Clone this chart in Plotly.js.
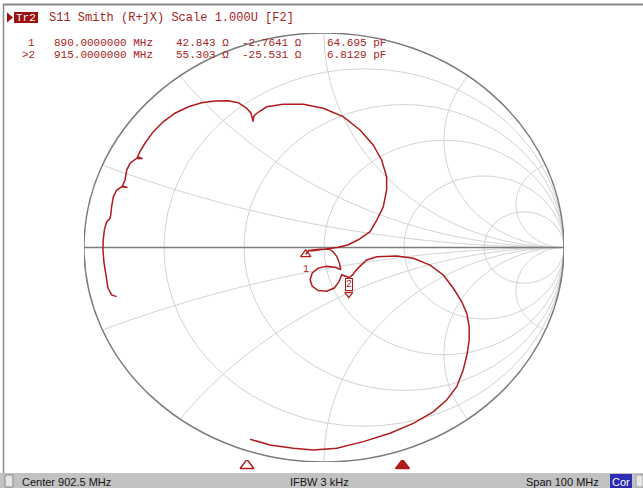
<!DOCTYPE html>
<html><head><meta charset="utf-8">
<script src="https://cdn.plot.ly/plotly-3.0.1.min.js"></script>
<style>html,body{margin:0;padding:0;background:#fff;overflow:hidden}#chart{width:643px;height:488px}</style>
</head><body><div id="chart"></div>
<script>
const W = 643, H = 488;

const s11Re = [-0.864,-0.885,-0.900,-0.910,-0.917,-0.921,-0.920,-0.915,-0.906,-0.892,-0.888,-0.885,-0.878,-0.864,-0.843,-0.819,-0.840,-0.829,-0.822,-0.808,-0.780,-0.756,-0.777,-0.767,-0.746,-0.711,-0.670,-0.621,-0.565,-0.510,-0.454,-0.399,-0.357,-0.322,-0.304,-0.297,-0.296,-0.292,-0.280,-0.260,-0.239,-0.170,-0.086,-0.003,0.080,0.150,0.205,0.240,0.261,0.261,0.247,0.220,0.192,0.143,0.101,0.060,0.018,-0.017,-0.045,-0.065,-0.076,-0.063,-0.017,0.021,0.039,0.053,0.064,0.070,0.046,0.011,-0.024,-0.049,-0.058,-0.049,-0.024,0.011,0.043,0.063,0.074,0.088,0.104,0.119,0.136,0.157,0.178,0.220,0.303,0.372,0.442,0.497,0.539,0.574,0.595,0.605,0.605,0.597,0.580,0.553,0.511,0.455,0.372,0.275,0.164,0.053,-0.045,-0.128,-0.225,-0.308];
const s11Im = [-0.229,-0.221,-0.189,-0.128,-0.068,-0.012,0.035,0.082,0.119,0.135,0.156,0.190,0.235,0.268,0.283,0.280,0.287,0.315,0.361,0.393,0.416,0.415,0.422,0.447,0.486,0.540,0.586,0.626,0.656,0.675,0.683,0.684,0.675,0.649,0.626,0.594,0.587,0.613,0.626,0.641,0.656,0.668,0.668,0.649,0.610,0.548,0.478,0.408,0.330,0.268,0.190,0.128,0.074,0.036,0.013,0.001,-0.006,-0.010,-0.015,-0.015,-0.032,-0.014,-0.008,-0.007,-0.021,-0.041,-0.072,-0.103,-0.092,-0.088,-0.096,-0.119,-0.150,-0.181,-0.201,-0.204,-0.189,-0.158,-0.127,-0.134,-0.140,-0.128,-0.103,-0.080,-0.058,-0.043,-0.040,-0.050,-0.082,-0.128,-0.190,-0.253,-0.307,-0.369,-0.431,-0.493,-0.571,-0.649,-0.711,-0.766,-0.820,-0.866,-0.905,-0.936,-0.944,-0.936,-0.921,-0.894];

// markers
const markerNames = ['1', '>2'];
const markerLabels = ['1', '2'];
const markerFreqMHz = [890, 915];
const markerR = [42.843, 55.303];
const markerX = [-2.7641, -25.531];
const markerC = ['64.695', '6.8129'];

const centerMHz = 902.5, spanMHz = 100, ifbwKHz = 3;
const Z0 = 50;
const gridR = [0.2, 0.5, 1, 2, 5];
const gridX = [0.2, 0.5, 1, 2, 5];

const RED = '#b01c1c', TXT = '#a82424', GRID = '#d2d2d2', AX = '#7c7c7c';

// convert marker impedance to Γ
const mRe = [], mIm = [];
for (let i = 0; i < markerR.length; i++) {
  const zr = markerR[i] / Z0, zi = markerX[i] / Z0;
  const nr = zr - 1, ni = zi, dr = zr + 1, di = zi;
  const d = dr * dr + di * di;
  mRe.push((nr * dr + ni * di) / d);
  mIm.push((ni * dr - nr * di) / d);
}

const px = v => v / W, py = v => 1 - v / H;
const shapes = [];
// resistance circles
gridR.forEach(r => shapes.push({type:'circle', xref:'x', yref:'y', x0:(r-1)/(r+1), x1:1, y0:-1/(1+r), y1:1/(1+r), line:{color:GRID, width:1}, layer:'below'}));
// reactance arcs
function arc(x, sgn) {
  const k = 1 / x, R = k;
  const ex = (x*x - 1) / (x*x + 1), ey = 2*x / (x*x + 1);
  const t0 = -Math.PI / 2;
  let tE = Math.atan2(ey - k, ex - 1);
  if (tE > t0) tE -= 2 * Math.PI;
  let d = '';
  const n = 90;
  for (let i = 0; i <= n; i++) {
    const t = t0 + (tE - t0) * i / n;
    d += (i ? 'L' : 'M') + (1 + R * Math.cos(t)).toFixed(5) + ',' + (sgn * (k + R * Math.sin(t))).toFixed(5);
  }
  return d;
}
gridX.forEach(x => {
  [1, -1].forEach(s => shapes.push({type:'path', xref:'x', yref:'y', path:arc(x, s), line:{color:GRID, width:1}, layer:'below'}));
});
shapes.push({type:'circle', xref:'x', yref:'y', x0:-1, x1:1, y0:-1, y1:1, line:{color:AX, width:1.5}, layer:'below'});
shapes.push({type:'line', xref:'x', yref:'y', x0:-1, x1:1, y0:0, y1:0, line:{color:AX, width:1.5}, layer:'below'});

// frame / bars
shapes.push({type:'line', xref:'paper', yref:'paper', x0:px(3), x1:1, y0:py(4.5), y1:py(4.5), line:{color:'#8a8a8a', width:2}});
shapes.push({type:'line', xref:'paper', yref:'paper', x0:px(3.5), x1:px(3.5), y0:py(4), y1:py(473), line:{color:'#8a8a8a', width:1.5}});
shapes.push({type:'rect', xref:'paper', yref:'paper', x0:0, x1:1, y0:0, y1:py(473), fillcolor:'#c2c2c2', line:{width:0}});
shapes.push({type:'rect', xref:'paper', yref:'paper', x0:px(5), x1:px(13), y0:py(487), y1:py(475), fillcolor:'#e6e6e6', line:{color:'#8a8a8a', width:1}});
shapes.push({type:'rect', xref:'paper', yref:'paper', x0:px(610), x1:px(632), y0:py(488), y1:py(474), fillcolor:'#2c2cb4', line:{width:0}});
shapes.push({type:'rect', xref:'paper', yref:'paper', x0:px(636), x1:px(643), y0:py(487), y1:py(475), fillcolor:'#e6e6e6', line:{color:'#9a9a9a', width:1}});
// header: play triangle and Tr2 box
shapes.push({type:'path', xref:'paper', yref:'paper', path:`M${px(7)},${py(12.5)}L${px(13)},${py(17.5)}L${px(7)},${py(22.5)}Z`, fillcolor:'#9c1010', line:{width:0}});
shapes.push({type:'rect', xref:'paper', yref:'paper', x0:px(14), x1:px(38), y0:py(23), y1:py(12), fillcolor:'#9c1010', line:{width:0}});

const nb = s => s.replace(/ /g, '\u00a0');
const monoFam = 'Liberation Mono, DejaVu Sans Mono, monospace';
const mono = {family:monoFam, size:12, color:TXT};
const monoS = {family:monoFam, size:11, color:TXT};
const sans = {family:'Liberation Sans, Arial, sans-serif', size:11, color:'#141414'};
const ann = [];
ann.push({xref:'paper', yref:'paper', x:px(26), y:py(17.5), text:'Tr2', showarrow:false, font:{family:monoFam, size:11, color:'#ffffff'}, xanchor:'center', yanchor:'middle'});
ann.push({xref:'paper', yref:'paper', x:px(47), y:py(17.5), text:nb('S11 Smith (R+jX) Scale 1.000U [F2]'), showarrow:false, font:mono, xanchor:'left', yanchor:'middle'});

// marker readout, column layout (monospace columns of 7.2 px from x=23)
const col = c => px(23 + 7.2 * c);
const lineY = [42.5, 55];
for (let i = 0; i < markerNames.length; i++) {
  const y = py(lineY[i]);
  const f = (x, t, xa) => ann.push({xref:'paper', yref:'paper', x:x, y:y, text:nb(t), showarrow:false, font:monoS, xanchor:xa, yanchor:'middle'});
  f(col(2), markerNames[i], 'right');
  f(col(4), markerFreqMHz[i].toFixed(7) + ' MHz', 'left');
  f(col(21), String(markerR[i]) + ' Ω', 'left');
  f(col(39), String(markerX[i]) + ' Ω', 'right');
  f(col(42), markerC[i] + ' pF', 'left');
}
// bottom bar texts
ann.push({xref:'paper', yref:'paper', x:px(20), y:py(481.5), text:nb('Center ' + centerMHz + ' MHz'), showarrow:false, font:sans, xanchor:'left', yanchor:'middle'});
ann.push({xref:'paper', yref:'paper', x:px(288), y:py(481.5), text:nb('IFBW ' + ifbwKHz + ' kHz'), showarrow:false, font:sans, xanchor:'left', yanchor:'middle'});
ann.push({xref:'paper', yref:'paper', x:px(601), y:py(481.5), text:nb('Span ' + spanMHz + ' MHz'), showarrow:false, font:sans, xanchor:'right', yanchor:'middle'});
ann.push({xref:'paper', yref:'paper', x:px(621), y:py(481.5), text:'Cor', showarrow:false, font:{family:'Liberation Sans, Arial, sans-serif', size:11, color:'#ffffff'}, xanchor:'center', yanchor:'middle'});
// marker labels on the trace
ann.push({xref:'x', yref:'y', x:mRe[0], y:mIm[0], text:markerLabels[0], showarrow:false, font:{family:monoFam, size:10, color:RED}, xanchor:'center', yanchor:'top', yshift:-8});
ann.push({xref:'x', yref:'y', x:mRe[1], y:mIm[1], text:markerLabels[1], showarrow:false, font:{family:monoFam, size:10, color:RED}, xanchor:'center', yanchor:'bottom', yshift:3, bordercolor:RED, borderwidth:1, borderpad:0});

const traces = [
  {type:'scatter', mode:'lines', x:s11Re, y:s11Im, line:{color:RED, width:1.5}, hoverinfo:'skip', xaxis:'x', yaxis:'y'},
  {type:'scatter', mode:'markers', x:[mRe[0]], y:[mIm[0]], marker:{symbol:'triangle-up-open', size:9, color:RED, line:{color:RED, width:1.3}}, hoverinfo:'skip', xaxis:'x', yaxis:'y'},
  {type:'scatter', mode:'markers', x:[mRe[1]], y:[mIm[1]], marker:{symbol:'triangle-down-open', size:7, color:RED, line:{color:RED, width:1.3}}, hoverinfo:'skip', xaxis:'x', yaxis:'y'},
  {type:'scatter', mode:'markers', x:markerFreqMHz, y:[0.5, 0.5], marker:{symbol:['triangle-up-open','triangle-up'], size:12, color:RED, line:{color:RED, width:1.5}}, hoverinfo:'skip', xaxis:'x2', yaxis:'y2'}
];

const layout = {
  width:W, height:H, margin:{l:0, r:0, t:0, b:0},
  paper_bgcolor:'#ffffff', plot_bgcolor:'rgba(0,0,0,0)', showlegend:false,
  xaxis:{domain:[px(84), px(564)], range:[-1, 1], visible:false, fixedrange:true},
  yaxis:{domain:[py(462), py(33)], range:[-1, 1], visible:false, fixedrange:true},
  xaxis2:{domain:[px(13.75), px(635.75)], range:[centerMHz - spanMHz/2, centerMHz + spanMHz/2], visible:false, anchor:'y2'},
  yaxis2:{domain:[py(471), py(460)], range:[0, 1], visible:false, anchor:'x2'},
  shapes:shapes, annotations:ann
};
Plotly.newPlot('chart', traces, layout, {staticPlot:true, displayModeBar:false});
</script></body></html>
